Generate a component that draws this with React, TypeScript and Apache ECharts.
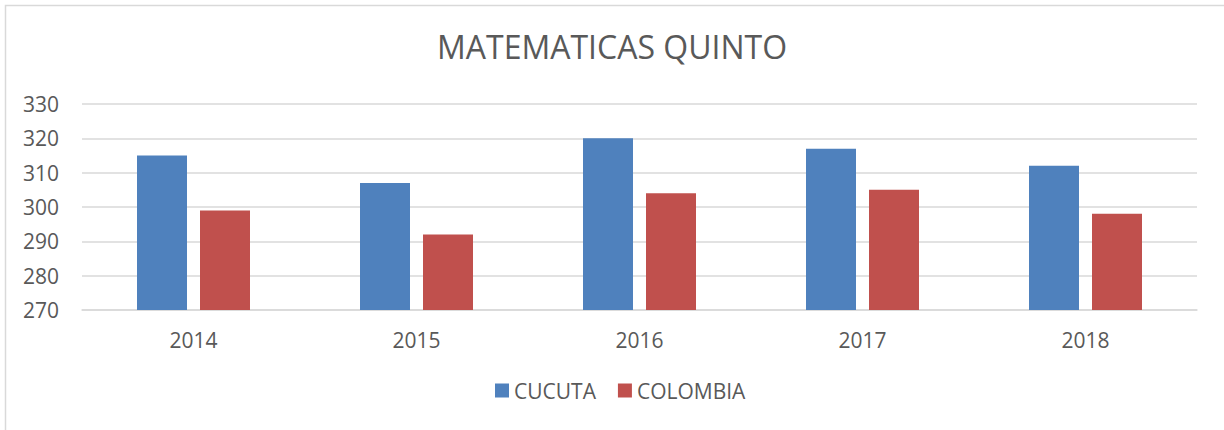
import React, { useEffect, useRef } from "react";
import * as echarts from "echarts";

const years = ["2014", "2015", "2016", "2017", "2018"];
const cucuta = [315, 307, 320, 317, 312];
const colombia = [299, 292, 304, 305, 298];
const yTicks = { min: 270, max: 330, interval: 10 };

const FONT = "'Open Sans', 'Noto Sans', sans-serif";
const TEXT = "#595959";

export default function App() {
  const ref = useRef<HTMLDivElement>(null);
  useEffect(() => {
    const chart = echarts.init(ref.current!, null, { renderer: "svg" });
    chart.setOption({
      animation: false,
      backgroundColor: "#ffffff",
      title: {
        text: "MATEMATICAS QUINTO",
        left: "center",
        top: 25,
        textStyle: { fontFamily: FONT, fontSize: 32, fontWeight: "normal", color: TEXT },
      },
      graphic: [
        {
          type: "rect",
          shape: { x: 5.5, y: 5.5, width: 1300, height: 500 },
          style: { fill: "none", stroke: "#d9d9d9", lineWidth: 1.5 },
          silent: true,
        },
      ],
      grid: { left: 82, right: 27, top: 104, bottom: 120 },
      legend: {
        bottom: 24,
        left: 490,
        itemWidth: 14,
        itemHeight: 14,
        itemGap: 22,
        icon: "rect",
        textStyle: { fontFamily: FONT, fontSize: 21, color: TEXT },
        data: ["CUCUTA", "COLOMBIA"],
      },
      xAxis: {
        type: "category",
        data: years,
        axisLine: { show: true, lineStyle: { color: "#d9d9d9", width: 1.5 } },
        axisTick: { show: false },
        axisLabel: { fontFamily: FONT, fontSize: 21, color: TEXT, margin: 19 },
      },
      yAxis: {
        type: "value",
        min: yTicks.min,
        max: yTicks.max,
        interval: yTicks.interval,
        axisLine: { show: false },
        axisTick: { show: false },
        splitLine: { lineStyle: { color: "#d9d9d9", width: 1.5 } },
        axisLabel: { fontFamily: FONT, fontSize: 21, color: TEXT, margin: 23 },
      },
      series: [
        {
          name: "CUCUTA",
          type: "bar",
          data: cucuta,
          barWidth: 50,
          barGap: "26%",
          itemStyle: { color: "#4F81BD" },
        },
        {
          name: "COLOMBIA",
          type: "bar",
          data: colombia,
          barWidth: 50,
          itemStyle: { color: "#C0504D" },
        },
      ],
    });
    return () => chart.dispose();
  }, []);
  return (
    <div
      ref={ref}
      style={{ position: "fixed", left: 0, top: 0, width: 1224, height: 430, background: "#fff" }}
    />
  );
}
